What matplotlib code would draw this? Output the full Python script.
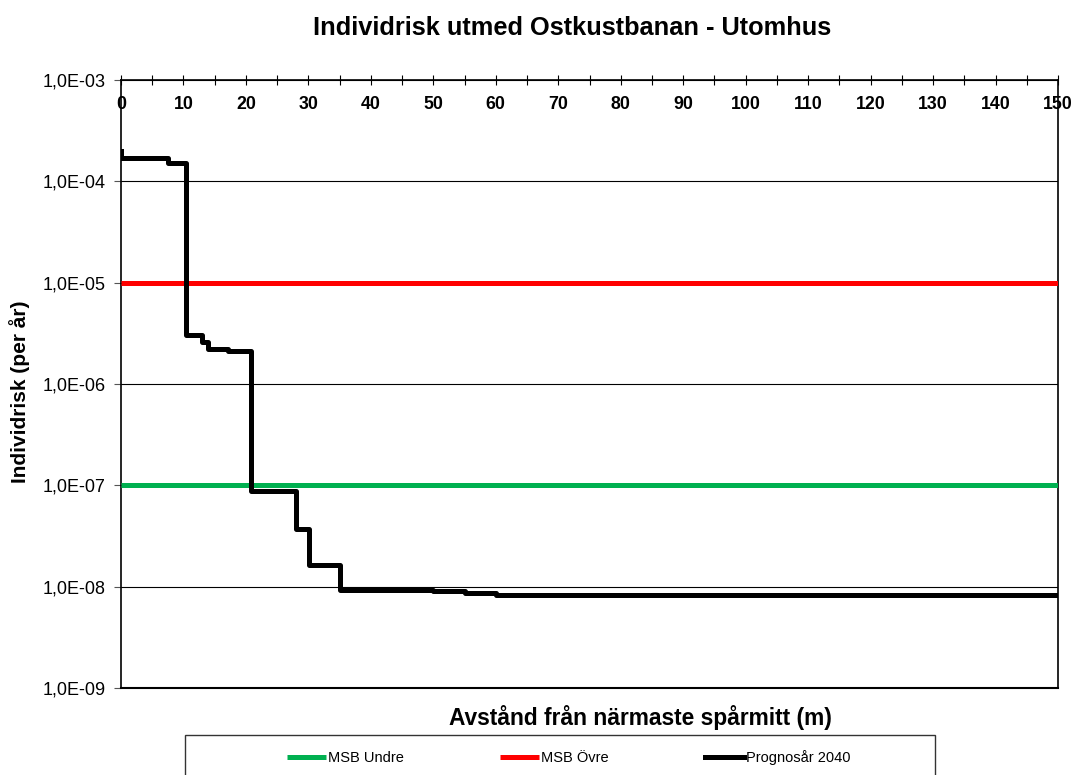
import matplotlib
matplotlib.use("Agg")
import matplotlib.pyplot as plt
from matplotlib.patches import Rectangle
from matplotlib.ticker import FixedLocator, MultipleLocator, FuncFormatter

# ---- data ----
dist = [0, 0, 7.5, 10.4, 12.9, 13.9, 17.1, 20.8, 28.0, 30.1, 35.0, 50.0, 55.0, 60.0, 150.0]
risk = [2.0e-4, 1.7e-4, 1.53e-4, 3.05e-6, 2.62e-6, 2.22e-6, 2.12e-6, 8.8e-8, 3.67e-8,
        1.63e-8, 9.2e-9, 9.0e-9, 8.6e-9, 8.3e-9, 8.3e-9]
msb_x = [0, 150]
msb_undre = [1e-7, 1e-7]
msb_ovre = [1e-5, 1e-5]
labels = ["MSB Undre", "MSB Övre", "Prognosår 2040"]
title = "Individrisk utmed Ostkustbanan - Utomhus"
xlabel = "Avstånd från närmaste spårmitt (m)"
ylabel = "Individrisk (per år)"
y_ticks = [1e-9, 1e-8, 1e-7, 1e-6, 1e-5, 1e-4, 1e-3]

plt.rcParams['font.family'] = ['Liberation Sans', 'DejaVu Sans']

W, H = 1076, 775
fig = plt.figure(figsize=(W / 100, H / 100), dpi=100)
ax = fig.add_axes([121 / W, 1 - 688 / H, (1058 - 121) / W, (688 - 80) / H])

l1, = ax.plot(msb_x, msb_undre, color='#00b050', lw=3.6, solid_capstyle='butt', zorder=3)
l2, = ax.plot(msb_x, msb_ovre, color='#ff0000', lw=3.6, solid_capstyle='butt', zorder=3)
l3, = ax.step(dist, risk, where='post', color='black', lw=3.6, zorder=4)

ax.set_yscale('log')
ax.set_ylim(1e-9, 1e-3)
ax.set_xlim(0, 150)
ax.yaxis.set_major_locator(FixedLocator(y_ticks))
ax.yaxis.set_minor_locator(FixedLocator([]))
ax.yaxis.set_major_formatter(FuncFormatter(
    lambda v, p: ("%.1E" % v).replace('.', ',')))
ax.grid(axis='y', color='black', lw=0.8)
ax.set_axisbelow(True)

ax.xaxis.set_major_locator(MultipleLocator(10))
ax.xaxis.set_minor_locator(MultipleLocator(5))
ax.tick_params(axis='x', which='both', top=True, bottom=False, labeltop=True,
               labelbottom=False, direction='inout', length=7, width=0.8)
ax.tick_params(axis='x', which='major', pad=-27, labelsize=12.8)
for lab in ax.get_xticklabels():
    lab.set_fontweight('bold')
ax.tick_params(axis='y', which='major', direction='out', length=5, width=0.8,
               labelsize=13, pad=6, color='#555555')

for s in ax.spines.values():
    s.set_linewidth(1.2)
ax.spines['bottom'].set_linewidth(1.5)

fig.text(572 / W, 1 - 28 / H, title, ha='center', va='center', fontsize=18.3, fontweight='bold')
fig.text(640 / W, 1 - 718 / H, xlabel, ha='center', va='center', fontsize=16.4, fontweight='bold')
fig.text(20 / W, 1 - 392 / H, ylabel, ha='center', va='center', rotation=90,
         fontsize=15, fontweight='bold')

fig.patches.append(Rectangle((185 / W, 1 - 800 / H), (935 - 185) / W, (800 - 735) / H,
                             transform=fig.transFigure, facecolor='white',
                             edgecolor='#333333', lw=1.0))
leg = fig.legend([l1, l2, l3], labels, loc='center left',
                 bbox_to_anchor=(287 / W, 1 - 758 / H), ncol=3, frameon=False,
                 fontsize=10.5, handlelength=2.7, handletextpad=0.1, columnspacing=6.6,
                 borderpad=0, borderaxespad=0)
for t in leg.get_texts():
    t.set_fontfamily(['Liberation Sans Narrow', 'Liberation Sans', 'DejaVu Sans'])

fig.savefig('out.png', dpi=100)
